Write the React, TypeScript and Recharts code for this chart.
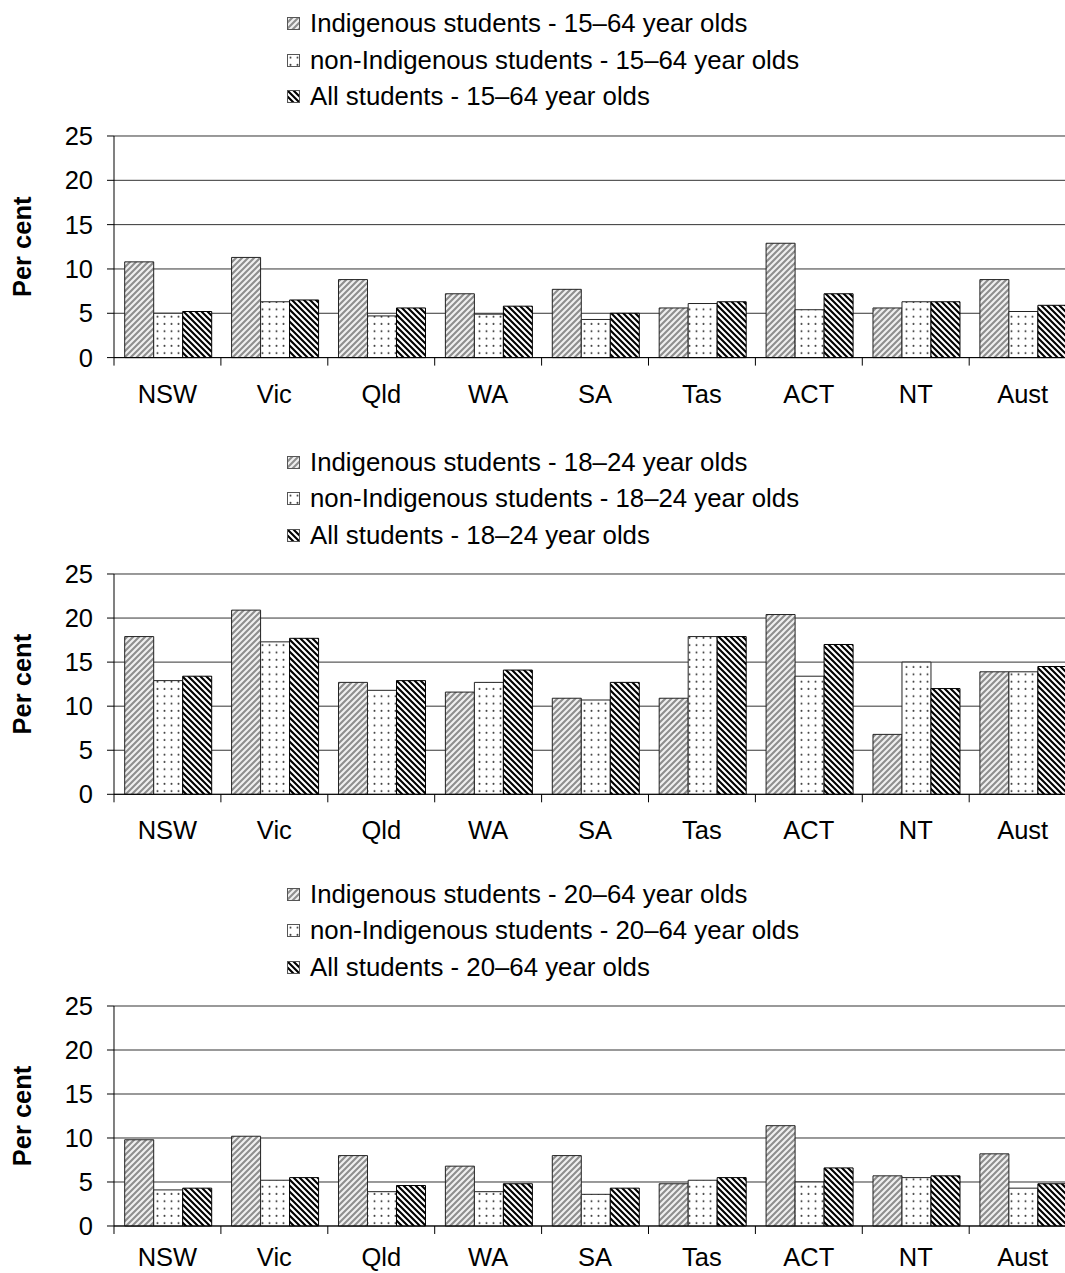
import React from 'react';
import { BarChart, Bar, XAxis, YAxis, CartesianGrid } from 'recharts';

// ---- data ----
const states = ['NSW', 'Vic', 'Qld', 'WA', 'SA', 'Tas', 'ACT', 'NT', 'Aust'];
const yTicks = [0, 5, 10, 15, 20, 25];
const ageGroups = ['15–64', '18–24', '20–64'];

const indig1564 = [10.8, 11.3, 8.8, 7.2, 7.7, 5.6, 12.9, 5.6, 8.8];
const nonIndig1564 = [5.0, 6.3, 4.7, 4.9, 4.3, 6.1, 5.4, 6.3, 5.2];
const all1564 = [5.2, 6.5, 5.6, 5.8, 5.0, 6.3, 7.2, 6.3, 5.9];

const indig1824 = [17.9, 20.9, 12.7, 11.6, 10.9, 10.9, 20.4, 6.8, 13.9];
const nonIndig1824 = [12.9, 17.3, 11.8, 12.7, 10.7, 17.9, 13.4, 15.0, 13.9];
const all1824 = [13.4, 17.7, 12.9, 14.1, 12.7, 17.9, 17.0, 12.0, 14.5];

const indig2064 = [9.8, 10.2, 8.0, 6.8, 8.0, 4.8, 11.4, 5.7, 8.2];
const nonIndig2064 = [4.1, 5.2, 3.9, 3.9, 3.6, 5.2, 5.0, 5.5, 4.3];
const all2064 = [4.3, 5.5, 4.6, 4.8, 4.3, 5.5, 6.6, 5.7, 4.8];

const panels = [
  { age: ageGroups[0], indig: indig1564, nonIndig: nonIndig1564, all: all1564 },
  { age: ageGroups[1], indig: indig1824, nonIndig: nonIndig1824, all: all1824 },
  { age: ageGroups[2], indig: indig2064, nonIndig: nonIndig2064, all: all2064 },
];

// ---- layout ----
const FONT = '"Liberation Sans", Arial, Helvetica, sans-serif';
const FS = 25.5;
const LEGEND_FS = 25.8;
const PLOT_LEFT = 114;
const BAND = 106.9;
const MARGIN_TOP = 20;
const X_AXIS_H = 60;
const CHART_W = PLOT_LEFT + BAND * states.length + 2;
const plotTops = [135.7, 574, 1006.3];
const plotHeights = [221.6, 220.3, 220];
const labelOffsets = [45.5, 44.5, 40];

const Patterns = ({ id }: { id: string }) => (
  <defs>
    <pattern id={`indig-${id}`} width={6} height={6} patternUnits="userSpaceOnUse">
      <rect width={6} height={6} fill="#f0f0f0" />
      <path d="M-1.5,1.5 l3,-3 M0,6 l6,-6 M4.5,7.5 l3,-3" stroke="#8e8e8e" strokeWidth={2.1} />
    </pattern>
    <pattern id={`non-${id}`} width={7} height={7.3} patternUnits="userSpaceOnUse">
      <rect width={7} height={7.3} fill="#ffffff" />
      <circle cx={3.5} cy={3.6} r={1} fill="#444" />
    </pattern>
    <pattern id={`all-${id}`} width={6} height={6} patternUnits="userSpaceOnUse">
      <rect width={6} height={6} fill="#ffffff" />
      <path d="M-1.5,4.5 l3,3 M0,0 l6,6 M4.5,-1.5 l3,3" stroke="#000000" strokeWidth={2.1} />
    </pattern>
  </defs>
);

const makeXTick = (offset: number) => (props: any) => {
  const { x, y, payload } = props;
  const bx = x - BAND / 2;
  return (
    <g>
      <line x1={bx} x2={bx} y1={y} y2={y + 8} stroke="#000" strokeWidth={1} />
      <text x={x} y={y + offset} textAnchor="middle" fontSize={FS} fill="#000" fontFamily={FONT}>
        {payload.value}
      </text>
    </g>
  );
};

const Panel = ({ idx }: { idx: number }) => {
  const p = panels[idx];
  const data = states.map((s, i) => ({
    state: s,
    indig: p.indig[i],
    nonIndig: p.nonIndig[i],
    all: p.all[i],
  }));
  const top = plotTops[idx];
  const h = plotHeights[idx];
  const id = `p${idx}`;
  const XTick = makeXTick(labelOffsets[idx]);
  const legendItems = [
    { key: 'indig', label: `Indigenous students - ${p.age} year olds` },
    { key: 'non', label: `non-Indigenous students - ${p.age} year olds` },
    { key: 'all', label: `All students - ${p.age} year olds` },
  ];
  return (
    <>
      {legendItems.map((it, k) => {
        const cy = top - 112 + k * 36.6;
        return (
          <div
            key={it.key}
            style={{
              position: 'absolute',
              left: 287,
              top: cy - 16,
              height: 32,
              display: 'flex',
              alignItems: 'center',
              whiteSpace: 'nowrap',
              fontFamily: FONT,
              fontSize: LEGEND_FS,
              color: '#000',
            }}
          >
            <svg width={13} height={13} style={{ marginRight: 10, display: 'block' }}>
              <Patterns id={`lg-${idx}-${k}`} />
              <rect x={0.5} y={0.5} width={12} height={12} fill={`url(#${it.key}-lg-${idx}-${k})`} stroke="#555" strokeWidth={1} />
            </svg>
            <span>{it.label}</span>
          </div>
        );
      })}
      <div style={{ position: 'absolute', left: 0, top: top - MARGIN_TOP }}>
        <BarChart
          width={CHART_W}
          height={MARGIN_TOP + h + X_AXIS_H}
          data={data}
          margin={{ top: MARGIN_TOP, right: 2, left: 0, bottom: 0 }}
          barCategoryGap="10%"
          barGap={0}
        >
          <Patterns id={id} />
          <CartesianGrid vertical={false} stroke="#333" strokeWidth={1} />
          <XAxis
            dataKey="state"
            height={X_AXIS_H}
            interval={0}
            tickLine={false}
            tickSize={0}
            tickMargin={0}
            axisLine={{ stroke: '#000', strokeWidth: 1 }}
            tick={<XTick />}
          />
          <YAxis
            width={PLOT_LEFT}
            domain={[0, 25]}
            ticks={yTicks}
            interval={0}
            tickSize={7}
            tickMargin={14}
            axisLine={{ stroke: '#000', strokeWidth: 1 }}
            tickLine={{ stroke: '#000', strokeWidth: 1 }}
            tick={{ fontSize: FS, fill: '#000', fontFamily: FONT }}
            label={{
              value: 'Per cent',
              angle: -90,
              position: 'insideLeft',
              offset: 22,
              style: { textAnchor: 'middle', fontSize: FS, fontWeight: 'bold', fill: '#000', fontFamily: FONT },
            }}
          />
          <Bar dataKey="indig" fill={`url(#indig-${id})`} stroke="#222" strokeWidth={1} isAnimationActive={false} />
          <Bar dataKey="nonIndig" fill={`url(#non-${id})`} stroke="#222" strokeWidth={1} isAnimationActive={false} />
          <Bar dataKey="all" fill={`url(#all-${id})`} stroke="#000" strokeWidth={1} isAnimationActive={false} />
        </BarChart>
      </div>
    </>
  );
};

export default function App() {
  return (
    <div
      style={{
        position: 'absolute',
        left: 0,
        top: 0,
        width: 1065,
        height: 1273,
        overflow: 'hidden',
        background: '#fff',
        fontFamily: FONT,
      }}
    >
      {panels.map((_, i) => (
        <Panel key={i} idx={i} />
      ))}
    </div>
  );
}
